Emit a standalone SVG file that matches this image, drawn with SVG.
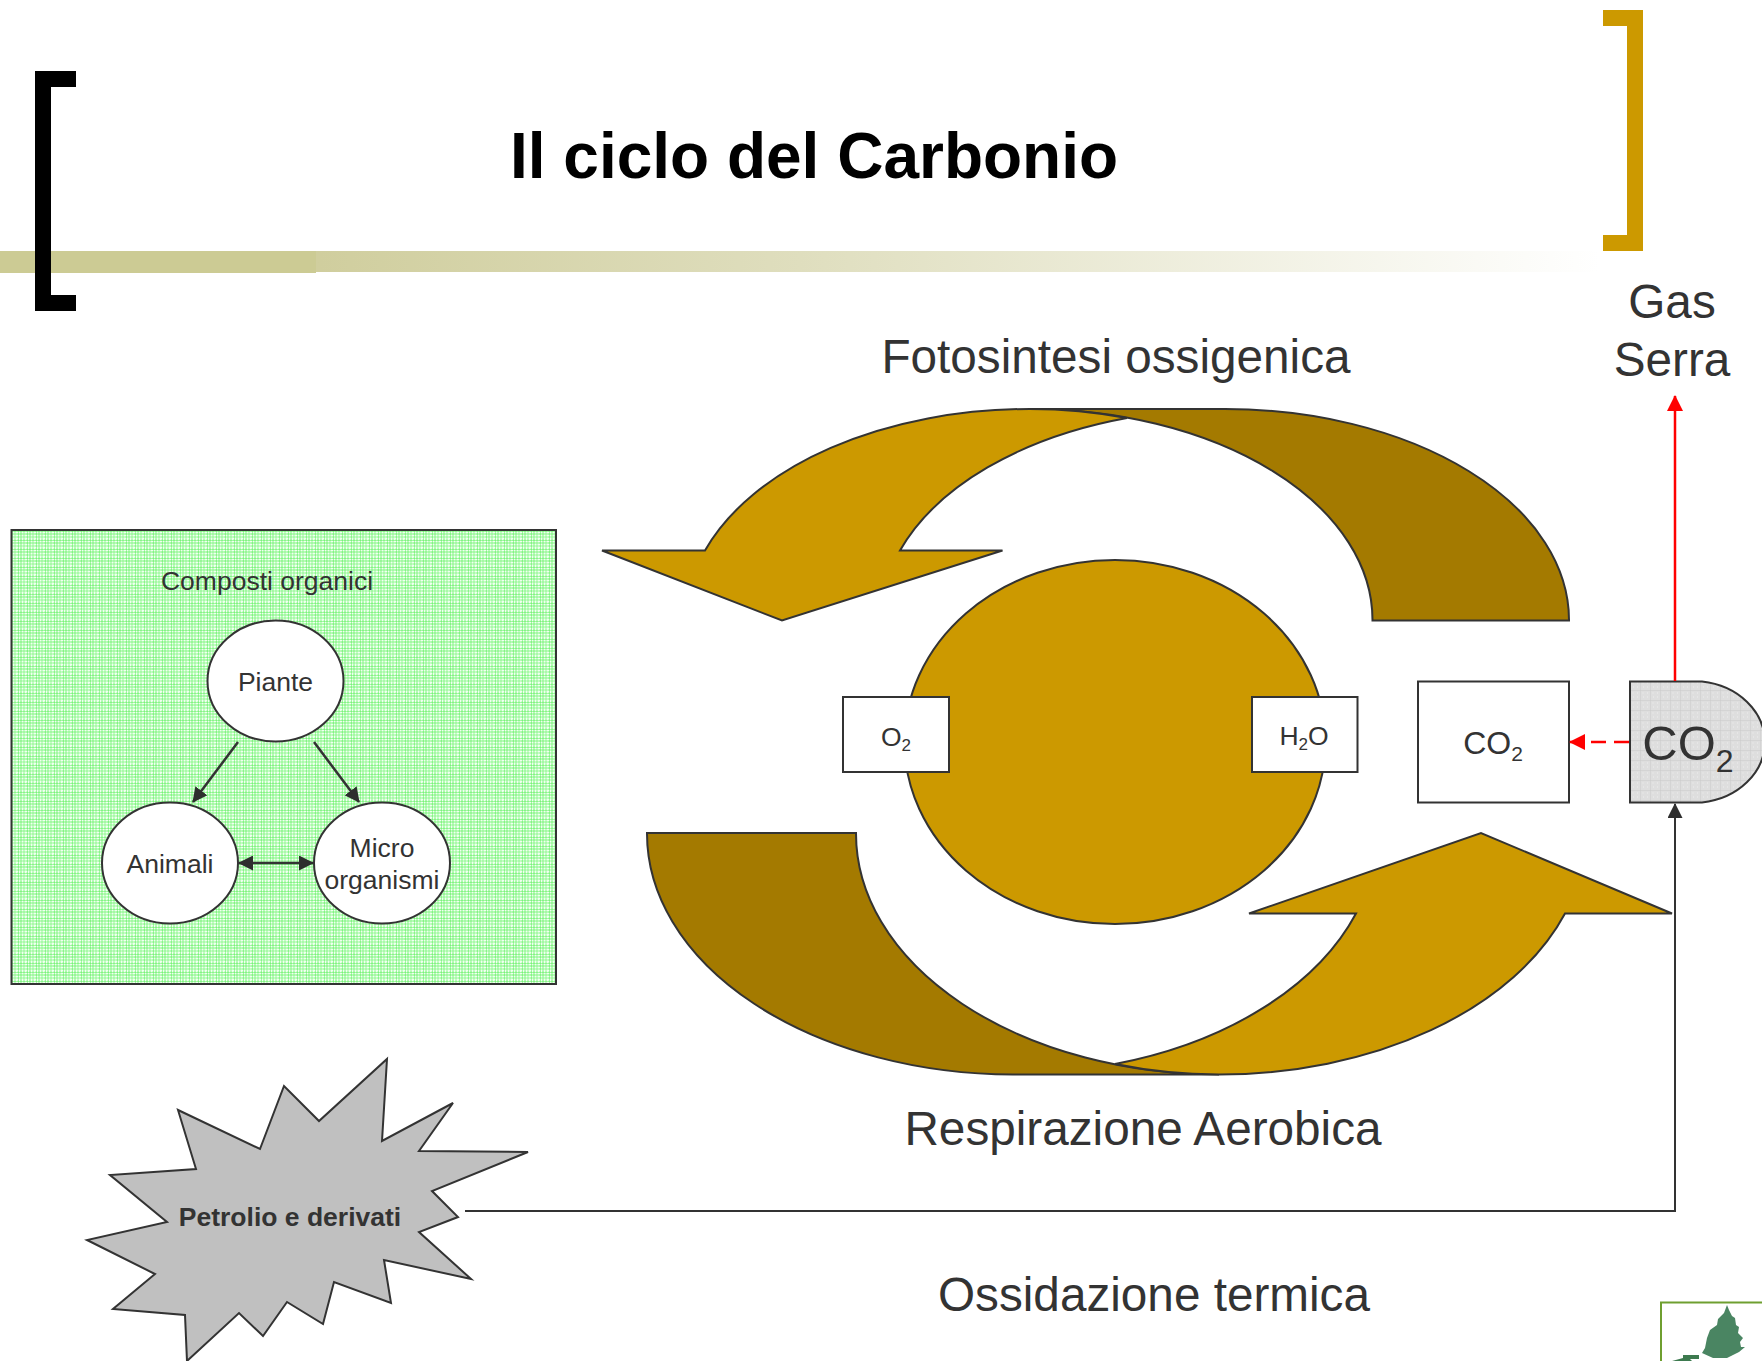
<svg xmlns="http://www.w3.org/2000/svg" width="1762" height="1361" viewBox="0 0 1762 1361">
<style>
text{font-family:"Liberation Sans",Arial,sans-serif;fill:#333}
.s27{font-size:26.500px}.s48{font-size:47.700px}
.m{text-anchor:middle}
.ln{stroke:#333;stroke-width:2;fill:#fff}
.gold{fill:#cc9900;stroke:#333;stroke-width:2;stroke-linejoin:miter}
.dark{fill:#a47a00;stroke:#333;stroke-width:2}
.c{stroke:#333;stroke-width:2.5;fill:none}
.blk{stroke:#333;stroke-width:2;fill:none}
.red{stroke:#ff0000;stroke-width:2.5;fill:none}
</style>
<defs>
<linearGradient id="band" x1="0" x2="1" y1="0" y2="0"><stop offset="0" stop-color="#cccb94"/><stop offset=".2" stop-color="#d0ce9e"/><stop offset=".5" stop-color="#dfdebe"/><stop offset="1" stop-color="#ffffff"/></linearGradient>
<pattern id="pg" width="9" height="9" patternUnits="userSpaceOnUse">
<rect width="9" height="9" fill="#d2fdd2"/>
<path d="M1.5 0V9M4.5 0V9M7.5 0V9M0 1.5H9M0 4.5H9M0 7.5H9" stroke="#f0fff0" stroke-width="1"/>
<path d="M3 0V9M0 3H9" stroke="#84f684" stroke-width="1"/>
<path d="M6 0V9M0 6H9" stroke="#9cf99c" stroke-width="1"/>
<path d="M0 0V9M0 0H9" stroke="#5cf05c" stroke-width="1"/>
</pattern>
<pattern id="pk" width="10" height="10" patternUnits="userSpaceOnUse">
<rect width="10" height="10" fill="#dedede"/>
<path d="M0 0H10M0 0V10" stroke="#cacaca" stroke-width="1"/>
<path d="M2.500 3h1M7 7h1M7 3h1M3 7h1" stroke="#eeeeee" stroke-width="1"/>
</pattern>
<marker id="ak" markerUnits="userSpaceOnUse" markerWidth="15" markerHeight="15" refX="14" refY="7.5" orient="auto"><path d="M0 0L15 7.5L0 15Z" fill="#2e2e2e"/></marker>
<marker id="aks" markerUnits="userSpaceOnUse" markerWidth="15" markerHeight="15" refX="14" refY="7.5" orient="auto-start-reverse"><path d="M0 0L15 7.5L0 15Z" fill="#2e2e2e"/></marker>
<marker id="ar" markerUnits="userSpaceOnUse" markerWidth="16" markerHeight="16" refX="15" refY="8" orient="auto"><path d="M0 0L16 8L0 16Z" fill="#ff0000"/></marker>
</defs>
<rect width="1762" height="1361" fill="#fff"/>
<g id="header">
<rect x="0" y="251" width="1600" height="21" fill="url(#band)"/>
<rect x="0" y="251" width="316" height="22" fill="#cccb94"/>
<path d="M35 71H76V87H51V295H76V311H35Z" fill="#000"/>
<path d="M1603 10H1643V251H1603V235H1627V26H1603Z" fill="#cc9900"/>
<text x="814" y="177.500" class="m" font-size="64" font-weight="bold" style="fill:#000">Il ciclo del Carbonio</text>
</g>
<g id="organici">
<rect x="11.500" y="530" width="544.500" height="454" fill="url(#pg)" stroke="#333" stroke-width="2"/>
<text x="267" y="590" class="s27 m">Composti organici</text>
</g>
<g id="piante"><ellipse class="ln" cx="275.500" cy="681" rx="68" ry="60.500"/><text x="275.500" y="691" class="s27 m">Piante</text></g>
<g id="animali"><ellipse class="ln" cx="170" cy="863" rx="68" ry="60.500"/><text x="170" y="873" class="s27 m">Animali</text></g>
<g id="micro"><ellipse class="ln" cx="382" cy="863" rx="68" ry="60.500"/><text x="382" y="857" class="s27 m">Micro</text><text x="382" y="889" class="s27 m">organismi</text></g>
<g id="fotosintesi">
<path class="dark" d="M1030 409H1225A344 211 0 0 1 1569 620.500H1372.500A342 211 0 0 0 1030 409Z"/>
<path class="gold" d="M602 550.500H705A344 211 0 0 1 1030 409A342 211 0 0 1 1127 418A344 211 0 0 0 900 550.500H1002.500L782 620.500Z"/>
<text x="1116" y="373" class="s48 m">Fotosintesi ossigenica</text>
</g>
<g id="respirazione">
<path class="dark" d="M647 833A367 241 0 0 0 1013 1074.500H1219A363 241 0 0 1 856 833Z"/>
<path class="gold" d="M1249 913.500H1356A361 241 0 0 1 1115 1064A363 241 0 0 0 1219 1074.500A367 241 0 0 0 1565 913.500H1672L1481 833Z"/>
<text x="1143" y="1145" class="s48 m">Respirazione Aerobica</text>
</g>
<g id="centro"><ellipse class="gold" cx="1115" cy="742" rx="210.500" ry="182"/></g>
<g id="o2"><rect class="ln" x="843" y="697" width="106" height="75"/><text x="896" y="746" class="s27 m">O<tspan font-size="17" dy="5">2</tspan></text></g>
<g id="h2o"><rect class="ln" x="1252" y="697" width="105.500" height="75"/><text x="1304" y="745" class="s27 m">H<tspan font-size="17" dy="5">2</tspan><tspan dy="-5">O</tspan></text></g>
<g id="co2-box"><rect class="ln" x="1418" y="681.500" width="151" height="121"/><text x="1493" y="754" font-size="32" class="m">CO<tspan font-size="21" dy="7">2</tspan></text></g>
<g id="co2-gas">
<path d="M1630 681.500H1702A72 61 0 0 1 1702 802.500H1630Z" fill="url(#pk)" stroke="#333" stroke-width="2"/>
<text x="1688" y="760" font-size="49" class="m">CO<tspan font-size="32" dy="12">2</tspan></text>
</g>
<g id="petrolio">
<path d="M387 1059L382 1141L453 1103L419 1151L528 1152L432 1191L458 1217L419 1232L471 1279L384 1260L391 1303L334 1282L323 1324L287 1302L263 1336L239 1313L187 1361L185 1315L113 1309L155 1274L87 1240L167 1222L110 1175L196 1169L178 1110L260 1149L284 1086L319 1121Z" fill="#c0c0c0" stroke="#333" stroke-width="2"/>
<text x="290" y="1226" font-size="26.500" font-weight="bold" class="m">Petrolio e derivati</text>
</g>
<g id="labels">
<text x="1672" y="318" class="s48 m">Gas</text>
<text x="1672" y="376" class="s48 m">Serra</text>
<text x="1154" y="1311" class="s48 m">Ossidazione termica</text>
</g>
<g id="logo">
<path d="M1762 1302.500H1661V1361" fill="none" stroke="#6f9f30" stroke-width="2"/>
<path d="M1727 1305L1729 1310L1732 1316L1735 1318L1736 1325L1739 1327L1738 1333L1743 1338L1740 1342L1741 1347L1745 1347L1739 1352L1733 1355L1727 1358L1713 1358L1702 1353L1705 1348L1707 1338L1710 1330L1717 1325L1718 1319L1724 1313Z" fill="#4a8562"/>
<path d="M1672 1361L1683 1358L1683 1355H1699V1359H1690L1692 1361Z" fill="#3d7a4f"/>
</g>
<g id="connectors">
<path class="c" d="M238 742L193 802" marker-end="url(#ak)"/>
<path class="c" d="M314 742L359 802" marker-end="url(#ak)"/>
<path class="c" d="M239 863H313" marker-start="url(#aks)" marker-end="url(#aks)"/>
<path class="blk" d="M465 1211H1675V804" marker-end="url(#ak)"/>
<path class="red" d="M1675 681V396" marker-end="url(#ar)"/>
<path class="red" d="M1629 742H1570" stroke-dasharray="15 8" marker-end="url(#ar)"/>
</g>
</svg>
